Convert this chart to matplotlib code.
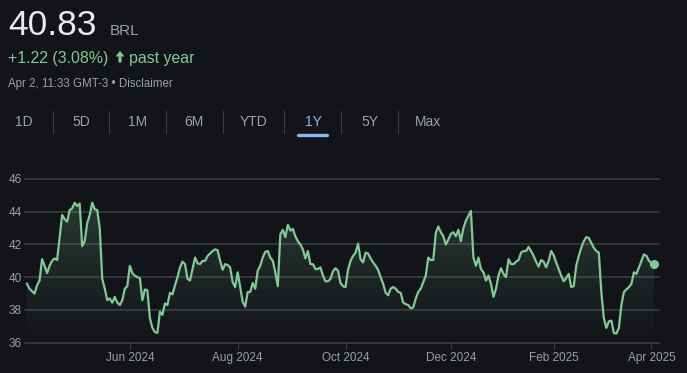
import numpy as np
import matplotlib
matplotlib.use("Agg")
import matplotlib.pyplot as plt
from matplotlib.lines import Line2D
from matplotlib.patches import FancyArrow
from matplotlib.transforms import IdentityTransform

plt.rcParams['font.family'] = ['Liberation Sans', 'DejaVu Sans']

# closing prices, one per trading day (Apr 2024 -> Apr 2025)
prices = [
    39.6, 39.3, 39.15, 39.0, 39.5, 39.8, 41.1, 40.7, 40.25, 40.7,
    41.0, 41.15, 41.05, 42.4, 43.8, 43.55, 43.4, 44.1, 44.2, 44.55,
    44.35, 44.5, 41.9, 42.2, 43.3, 43.8, 44.55, 44.15, 44.1, 43.0,
    39.9, 39.3, 38.6, 38.7, 38.45, 38.8, 38.45, 38.3, 38.6, 39.3,
    39.45, 40.7, 40.25, 40.1, 40.0, 39.95, 38.6, 39.25, 39.2, 37.5,
    36.9, 36.65, 36.6, 37.9, 37.7, 38.4, 38.3, 39.05, 38.95, 39.5,
    40.0, 40.6, 40.95, 40.8, 39.9, 39.8, 40.5, 41.2, 40.85, 40.8,
    41.0, 41.0, 41.3, 41.45, 41.6, 41.7, 41.65, 41.0, 40.45, 40.8,
    40.75, 40.6, 39.7, 39.4, 40.3, 39.4, 38.5, 38.2, 39.1, 39.1,
    39.65, 39.3, 40.4, 40.7, 41.2, 41.55, 41.6, 41.2, 41.0, 40.3,
    39.45, 42.6, 42.9, 42.45, 43.2, 42.85, 42.95, 42.5, 42.2, 42.0,
    41.7, 41.15, 41.6, 40.8, 40.8, 40.5, 40.5, 40.6, 40.1, 39.75,
    39.75, 39.9, 40.35, 40.55, 40.4, 39.65, 39.45, 39.4, 40.45, 41.0,
    41.3, 41.5, 42.05, 41.1, 40.9, 41.5, 41.45, 41.15, 40.9, 40.7,
    40.45, 40.0, 39.6, 39.05, 38.9, 39.3, 39.4, 39.3, 39.1, 39.05,
    38.45, 38.35, 38.3, 38.1, 38.15, 38.7, 39.1, 39.3, 39.7, 40.1,
    41.2, 41.05, 41.05, 42.7, 43.1, 42.75, 42.5, 42.0, 42.3, 42.65,
    42.75, 42.5, 42.9, 42.2, 43.0, 43.45, 43.75, 44.05, 41.2, 40.7,
    41.2, 40.5, 40.3, 39.8, 40.1, 39.6, 38.8, 39.3, 40.1, 40.55,
    40.2, 40.0, 41.1, 40.8, 40.8, 40.95, 41.05, 41.5, 41.6, 41.6,
    41.85, 41.6, 41.3, 40.95, 40.65, 41.05, 40.95, 40.6, 41.0, 41.6,
    41.35, 40.9, 40.5, 40.1, 39.75, 39.95, 40.2, 39.4, 39.45, 40.7,
    41.3, 41.8, 42.2, 42.45, 42.4, 42.1, 41.8, 41.6, 41.5, 39.1,
    37.5, 36.9, 37.3, 37.35, 36.6, 36.55, 36.9, 38.3, 39.1, 39.25,
    39.4, 39.6, 40.3, 40.2, 40.6, 41.0, 41.4, 41.3, 41.0, 40.85,
    40.83,
]

month_ticks = [41, 84, 127, 169, 210, 249]
month_labels = ['Jun 2024', 'Aug 2024', 'Oct 2024', 'Dec 2024', 'Feb 2025', 'Apr 2025']
y_ticks = [36, 38, 40, 42, 44, 46]

tabs = ['1D', '5D', '1M', '6M', 'YTD', '1Y', '5Y', 'Max']
tab_x = [24, 81, 138, 194, 254, 313, 370, 428]
sep_x = [53, 109, 166, 223, 284, 341, 398]

BG = '#131419'
GREEN = '#81c995'
GRAY = '#9aa0a6'
GRID = '#3c4043'
BLUE = '#8ab4f8'

W, H = 687, 373
fig = plt.figure(figsize=(W / 100, H / 100), dpi=100, facecolor=BG)


def fx(px):
    return px / W


def fy(py):
    return 1 - py / H


# header
fig.text(fx(8), fy(35), '40.83', fontsize=25.5, color='#e8eaed', va='baseline')
fig.text(fx(110), fy(35), 'BRL', fontsize=11, color=GRAY, va='baseline')
fig.text(fx(8), fy(62.5), '+1.22 (3.08%)', fontsize=11.4, color=GREEN, va='baseline')
# filled up arrow, drawn in pixel space
fig.add_artist(FancyArrow(120, H - 62.5, 0, 11.5, width=3, head_width=9,
                          head_length=5.5, length_includes_head=True,
                          color=GREEN, lw=0, transform=IdentityTransform()))
fig.text(fx(129), fy(62.5), 'past year', fontsize=11.4, color=GREEN, va='baseline')
fig.text(fx(8), fy(87), 'Apr 2, 11:33 GMT-3 \u2022 Disclaimer', fontsize=8.3,
         color=GRAY, va='baseline')

# range tabs
for t, x in zip(tabs, tab_x):
    c = BLUE if t == '1Y' else GRAY
    fig.text(fx(x), fy(122.5), t, fontsize=10, color=c, ha='center', va='center')
for x in sep_x:
    fig.add_artist(Line2D([fx(x), fx(x)], [fy(111), fy(133)], color=GRID, lw=0.8))
fig.add_artist(Line2D([fx(298), fx(327)], [fy(135), fy(135)], color=BLUE, lw=2.4,
                      solid_capstyle='round'))

# chart
ax = fig.add_axes([fx(25), fy(342.7), fx(659) - fx(25), fy(179) - fy(342.7)])
ax.set_facecolor(BG)
x = np.arange(len(prices))
y = np.array(prices)

for v in y_ticks:
    ax.axhline(v, color=GRID, lw=1.1, zorder=0, clip_on=False)

# gradient fill under line
grad = np.zeros((256, 1, 4))
rgb = matplotlib.colors.to_rgb(GREEN)
grad[:, 0, :3] = rgb
grad[:, 0, 3] = np.linspace(0.2, 0.0, 256)
im = ax.imshow(grad, extent=[x[0], x[-1], 36, y.max()], aspect='auto',
               origin='upper', zorder=1)
poly = ax.fill_between(x, y, 36, color='none', lw=0)
im.set_clip_path(poly.get_paths()[0], transform=ax.transData)

ax.plot(x, y, color=GREEN, lw=1.6, zorder=3, solid_joinstyle='round')
ax.plot(x[-1], y[-1], 'o', color=GREEN, ms=5.5, zorder=4)

ax.set_xlim(-0.8, 252)
ax.set_ylim(36, 46)
for s in ax.spines.values():
    s.set_visible(False)
ax.set_yticks(y_ticks)
ax.set_yticklabels([str(v) for v in y_ticks])
ax.set_xticks(month_ticks)
ax.set_xticklabels(month_labels)
ax.tick_params(axis='y', length=0, pad=2.5, labelsize=8.5, labelcolor=GRAY)
ax.tick_params(axis='x', length=4, width=0.8, color=GRID, pad=3, labelsize=8.5,
               labelcolor=GRAY)

fig.savefig('out.png', dpi=100, facecolor=BG)
